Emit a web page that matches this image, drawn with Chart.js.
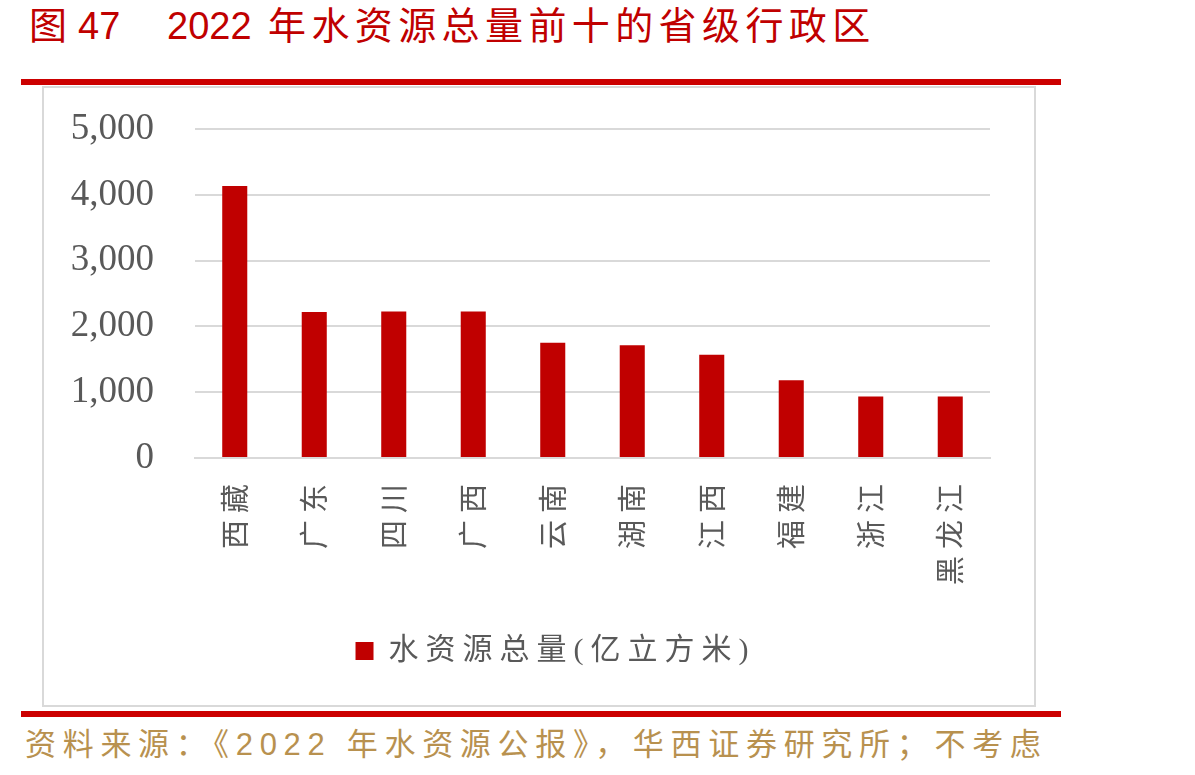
<!DOCTYPE html>
<html>
<head>
<meta charset="utf-8">
<script src="https://cdn.jsdelivr.net/npm/chart.js@4.4.1/dist/chart.umd.min.js"></script>
<style>
    body { margin: 0; background: #fff; width: 1195px; height: 775px; overflow: hidden; position: relative; }
    .t { position: absolute; top: 4px; font-family: "Liberation Sans", "Noto Sans CJK SC"; font-size: 38px; line-height: 44px; color: #C00000; white-space: nowrap; }
    .redline { position: absolute; left: 21px; width: 1040px; height: 6px; background: #CC0000; }
    #box { position: absolute; left: 42px; top: 86px; width: 990px; height: 617px; border: 2px solid #D9D9D9; }
    #source { position: absolute; left: 25px; top: 721px; font-family: "Liberation Sans", "Noto Sans CJK SC"; font-size: 31px; line-height: 47px; color: #B8914F; letter-spacing: 6.7px; white-space: nowrap; }
</style>
</head>
<body>
<div class="t" style="left:29px">图</div>
<div class="t" style="left:78px">47</div>
<div class="t" style="left:167px">2022</div>
<div class="t" style="left:268px; letter-spacing:5.4px">年水资源总量前十的省级行政区</div>
<div class="redline" style="top:79px"></div>
<div id="box"><canvas id="myChart" width="990" height="617"></canvas></div>
<div class="redline" style="top:711px"></div>
<div id="source">资料来源：《2022 年水资源公报》，华西证券研究所；不考虑<br>港澳台地区</div>

<script>
// 省份 & 水资源总量(亿立方米)
const provinces = ['西藏', '广东', '四川', '广西', '云南', '湖南', '江西', '福建', '浙江', '黑龙江'];
const waterTotal = [4135, 2220, 2225, 2225, 1752, 1715, 1570, 1180, 935, 935];
const yTicks = [0, 1000, 2000, 3000, 4000, 5000];

// wide spacing for the Chinese texts (legend + category labels), none for the numbers
const spacingPlugin = {
    id: 'spacing',
    beforeDraw: function (chart) { chart.ctx.letterSpacing = '7px'; },
    afterDatasetsDraw: function (chart) { chart.ctx.letterSpacing = '0px'; }
};

const dataChart = {
    labels: provinces,
    datasets: [{
        label: '水资源总量(亿立方米)',
        data: waterTotal,
        backgroundColor: '#C00000',
        borderWidth: 0,
        barPercentage: 0.315,
        categoryPercentage: 1
    }]
};

const config1 = {
    type: 'bar',
    data: dataChart,
    plugins: [spacingPlugin],
    options: {
        responsive: false,
        animation: false,
        layout: { padding: { left: 0, right: 44, top: 41, bottom: 29 } },
        plugins: {
            tooltip: { enabled: false },
            legend: {
                position: 'bottom',
                labels: {
                    boxWidth: 18,
                    boxHeight: 18,
                    color: '#595959',
                    font: { family: '"Liberation Serif", "Noto Sans CJK SC"', size: 30 }
                }
            }
        },
        scales: {
            x: {
                grid: { display: false, drawTicks: false },
                border: { display: true, color: '#D9D9D9', width: 2 },
                ticks: {
                    minRotation: 90,
                    maxRotation: 90,
                    padding: 19,
                    color: '#595959',
                    font: { family: '"Noto Sans CJK SC"', size: 29 }
                },
                afterFit: function (scale) { scale.height = 168; }
            },
            y: {
                min: 0,
                max: 5000,
                afterBuildTicks: function (scale) { scale.ticks = yTicks.map(v => ({ value: v })); },
                grid: { color: '#D9D9D9', lineWidth: 2, drawTicks: false },
                border: { display: false },
                ticks: {
                    z: 1,
                    padding: 41,
                    color: '#595959',
                    font: { family: '"Liberation Serif"', size: 37 },
                    callback: function (v) { return v.toLocaleString('en-US'); }
                },
                afterFit: function (scale) {
                    scale.width = 151;
                    scale.paddingTop = 0;
                    scale.paddingBottom = 0;
                }
            }
        }
    }
};

const myChart = new Chart(document.getElementById('myChart'), config1);
</script>
</body>
</html>
